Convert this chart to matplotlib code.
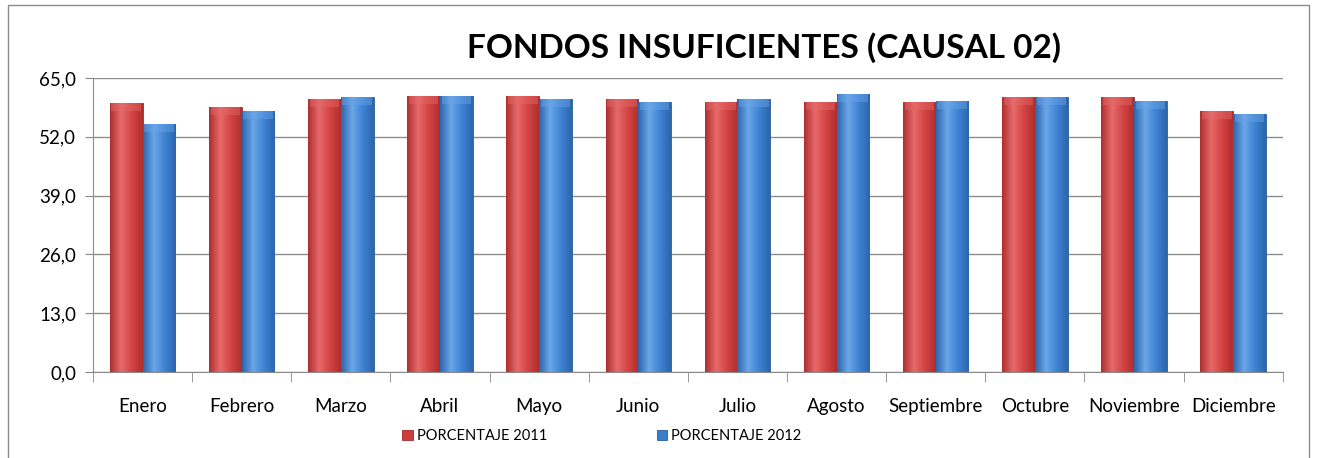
import numpy as np
import matplotlib
matplotlib.use("Agg")
import matplotlib.pyplot as plt
from matplotlib.colors import LinearSegmentedColormap

plt.rcParams['font.family'] = ['Lato', 'DejaVu Sans']

meses = ["Enero", "Febrero", "Marzo", "Abril", "Mayo", "Junio", "Julio",
         "Agosto", "Septiembre", "Octubre", "Noviembre", "Diciembre"]
pct_2011 = [59.5, 58.6, 60.4, 61.0, 61.0, 60.4, 59.7, 59.7, 59.7, 60.8, 60.8, 57.7]
pct_2012 = [54.8, 57.7, 60.8, 61.0, 60.4, 59.7, 60.4, 61.5, 59.9, 60.8, 59.9, 57.0]
yticks = [0, 13, 26, 39, 52, 65]

fig = plt.figure(figsize=(13.17, 4.58), dpi=100)
ax = fig.add_axes([0.0706, 0.1878, 0.9034, 0.6419])

x = np.arange(len(meses))
w = 0.33
b1 = ax.bar(x - w / 2, pct_2011, w, color="#cf3b3b", edgecolor="#9e2a2a", linewidth=0.6, zorder=3)
b2 = ax.bar(x + w / 2, pct_2012, w, color="#3a7dcc", edgecolor="#285f9e", linewidth=0.6, zorder=3)

# horizontal shading like the excel bevel
def shade(bars, dark, mid, light):
    cmap = LinearSegmentedColormap.from_list("s", [dark, light, mid, dark])
    grad = np.linspace(0, 1, 64).reshape(1, -1)
    for p in bars:
        x0, y0 = p.get_x(), p.get_y()
        im = ax.imshow(grad, cmap=cmap, aspect="auto", zorder=3.5,
                       extent=[x0, x0 + p.get_width(), y0, y0 + p.get_height()])
        im.set_clip_path(p)
        # lighter cap at the top
        ax.bar(x0 + p.get_width() / 2, 1.8, p.get_width() * 0.9,
               bottom=p.get_height() - 1.8, color=light, alpha=0.45,
               linewidth=0, zorder=3.6)

shade(b1, "#b02e2e", "#d44444", "#e66a6a")
shade(b2, "#2c66ad", "#3f83d4", "#6aa6e8")

ax.set_xlim(-0.5, len(meses) - 0.5)
ax.set_ylim(0, 65)
ax.set_yticks(yticks)
ax.set_yticklabels([f"{v:.1f}".replace(".", ",") for v in yticks], fontsize=13.5)
ax.set_xticks(x)
ax.set_xticklabels(meses, fontsize=13.5)
ax.tick_params(axis="x", length=0, pad=19)
ax.set_xticks(np.arange(-0.5, len(meses)), minor=True)
ax.tick_params(axis="x", which="minor", length=7, color="#888888", direction="out")
ax.tick_params(axis="y", length=6, color="#888888", direction="out", pad=6)
ax.grid(axis="y", color="#8c8c8c", linewidth=1.0, zorder=0)
for s in ["top", "right"]:
    ax.spines[s].set_visible(False)
for s in ["left", "bottom"]:
    ax.spines[s].set_color("#8c8c8c")
ax.set_axisbelow(True)

fig.text(0.58, 0.895, "FONDOS INSUFICIENTES (CAUSAL 02)", ha="center", va="center",
         fontsize=24, fontweight="bold")

leg = fig.legend([b1, b2], ["PORCENTAJE 2011", "PORCENTAJE 2012"], ncol=2,
                 loc="center", bbox_to_anchor=(0.457, 0.047), frameon=False,
                 fontsize=10.5, handlelength=0.7, handleheight=0.7,
                 handletextpad=0.3, columnspacing=7.5)

# outer chart frame
fig.patches.append(plt.Rectangle((0.006, -0.01), 0.988, 1.0, transform=fig.transFigure,
                                 fill=False, edgecolor="#8c8c8c", linewidth=1.0))

fig.savefig("out.png", dpi=100)
